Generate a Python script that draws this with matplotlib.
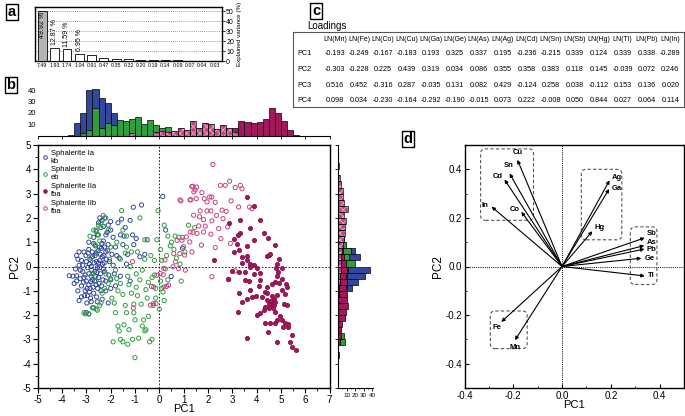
"""Sphalerite PCA figure: scree plot (a), PC1/PC2 scores with marginal
histograms (b), loadings table (c) and loading biplot (d)."""

import numpy as np
import matplotlib
matplotlib.use("Agg")
import matplotlib.pyplot as plt
from matplotlib.lines import Line2D
from matplotlib.patches import FancyBboxPatch

plt.rcParams["font.family"] = ["Liberation Sans", "DejaVu Sans"]
plt.rcParams["axes.unicode_minus"] = False
plt.rcParams["hatch.linewidth"] = 0.6

# ---------------------------------------------------------------- data
eigenvalues = ["7.49", "1.93", "1.74", "1.04", "0.91", "0.47", "0.35", "0.32",
               "0.20", "0.19", "0.14", "0.09", "0.07", "0.04", "0.03"]
variance_pct = [49.92, 12.87, 11.59, 6.95, 6.06, 3.13, 2.33, 2.13,
                1.33, 1.27, 0.93, 0.60, 0.47, 0.27, 0.20]

elements = ["Mn", "Fe", "Co", "Cu", "Ga", "Ge", "As", "Ag", "Cd", "Sn",
            "Sb", "Hg", "Tl", "Pb", "In"]
pc_names = ["PC1", "PC2", "PC3", "PC4"]
load_pc1 = [-0.193, -0.249, -0.167, -0.183, 0.193, 0.325, 0.337, 0.195,
            -0.236, -0.215, 0.339, 0.124, 0.339, 0.338, -0.289]
load_pc2 = [-0.303, -0.228, 0.225, 0.439, 0.319, 0.034, 0.086, 0.355,
            0.358, 0.383, 0.118, 0.145, -0.039, 0.072, 0.246]
load_pc3 = [0.516, 0.452, -0.316, 0.287, -0.035, 0.131, 0.082, 0.429,
            -0.124, 0.258, 0.038, -0.112, 0.153, 0.136, 0.020]
load_pc4 = [0.098, 0.034, -0.230, -0.164, -0.292, -0.190, -0.015, 0.073,
            0.222, -0.008, 0.050, 0.844, 0.027, 0.064, 0.114]

# element groups boxed in the biplot
groups = [["Cu", "Sn", "Cd", "In", "Co"],
          ["Ag", "Ga", "Hg"],
          ["Sb", "As", "Pb", "Ge", "Tl"],
          ["Fe", "Mn"]]

# PC scores
ia_points = [
    (-3.7, -0.38), (-3.55, -0.4), (-3.4, -0.38), (-3.3, -1.4), (-3.4, 0.45), (-3.35, 0.3),
    (-3.3, 0.05), (-3.25, -0.5), (-3.2, -0.8), (-3.15, -0.2), (-3.1, 0.6), (-3.05, -1.0),
    (-3.0, -0.6), (-3.0, 0.2), (-2.95, -1.2), (-2.9, -0.3), (-2.9, 0.7), (-2.85, -0.9),
    (-2.8, 0.0), (-2.8, -1.45), (-2.75, -0.55), (-2.75, 0.4), (-2.7, -1.1), (-2.7, 0.95),
    (-2.65, -0.2), (-2.6, -0.75), (-2.6, 0.55), (-2.55, 1.3), (-2.5, -0.45), (-2.5, 0.15),
    (-2.45, 0.8), (-2.4, -1.0), (-2.4, 1.6), (-2.35, 0.4), (-2.3, -0.1), (-2.3, 1.05),
    (-2.25, 2.0), (-2.2, -0.6), (-2.2, 0.6), (-2.15, 1.4), (-2.1, -1.5), (-2.1, 0.9),
    (-2.05, 0.2), (-2.0, 1.85), (-2.0, -0.9), (-1.95, 0.5), (-1.9, 1.2), (-1.85, -0.3),
    (-1.8, 0.8), (-1.7, 1.8), (-1.65, 0.35), (-1.6, -0.4), (-1.55, 1.95), (-1.5, 0.9),
    (-1.4, 1.6), (-1.3, 0.5), (-1.2, 1.9), (-1.07, 2.44), (-1.05, 0.9), (-0.73, 2.53),
    (-0.6, 0.5), (-0.5, 1.1), (0.14, 2.88), (0.26, 1.5), (0.49, -0.41), (0.95, 0.75),
    (-3.05, -0.35), (-2.95, -0.05), (-2.9, -0.75), (-2.85, 0.3), (-2.8, -0.4), (-2.78, -0.15),
    (-2.72, -0.85), (-2.68, 0.15), (-2.62, -0.4), (-2.58, -1.25), (-2.55, -0.05), (-2.52, 0.65),
    (-2.48, -0.7), (-2.45, 0.25), (-2.42, -0.3), (-2.38, 0.75), (-2.32, -0.55), (-2.28, 0.45),
    (-2.25, -0.2), (-2.18, 0.3), (-2.12, 0.65), (-2.08, -0.35), (-3.12, -0.65), (-3.08, -1.2),
    (-3.02, 0.45), (-2.98, -1.5), (-2.92, 0.55), (-2.88, -1.05), (-2.82, -0.62), (-2.76, 0.6),
    (-2.66, -0.6), (-2.64, 0.45), (-2.58, 0.2), (-2.54, -0.9), (-2.46, -0.05), (-2.36, 0.95),
    (-2.34, 0.1), (-2.26, 0.8), (-2.9, 1.0), (-2.7, 1.2), (-2.6, 1.45), (-2.5, 1.8),
    (-2.3, 1.65), (-2.2, 1.3), (-2.1, 1.7), (-2.0, 1.5), (-2.45, 2.0), (-2.35, 1.9),
    (-3.3, 0.6), (-3.2, 0.25), (-3.45, -0.1), (-3.5, -0.7), (-3.35, -1.0), (-3.2, -1.25),
    (-3.0, -1.9), (-2.9, -1.95), (-2.55, -1.45), (-2.7, -1.7), (-2.35, -1.35), (-2.2, -1.0),
    (-2.0, -0.55), (-1.9, 0.05), (-1.8, -0.8), (-1.75, 0.45), (-1.6, 1.3), (-1.45, 1.25),
    (-1.35, 0.1), (-1.2, -0.6), (-1.1, 1.3), (-0.95, 1.15), (-0.8, 0.4), (-3.15, 0.05),
    (-3.1, -0.45), (-2.97, -0.9), (-2.87, 0.1), (-2.83, -1.3), (-2.73, -0.3), (-2.63, 0.85),
    (-2.57, -0.25), (-2.43, 0.5), (-2.37, -0.8), (-2.27, 0.15), (-3.25, -0.15), (-3.4, -0.6),
]
ib_points = [
    (-3.05, -1.95), (-2.9, -1.95), (-2.6, -1.75), (-2.55, -1.8), (-2.75, -1.7), (-2.4, -1.5),
    (-2.25, -0.9), (-2.7, 1.5), (-2.6, 1.5), (-2.5, 1.3), (-2.5, 1.7), (-2.3, 1.65),
    (-2.2, 2.0), (-2.3, 2.1), (-2.4, 1.8), (-2.1, 1.5), (-2.65, 0.9), (-2.45, 1.05),
    (-2.8, 0.35), (-2.75, -0.3), (-2.6, -0.6), (-2.35, -1.1), (-2.2, -0.3), (-2.1, -0.7),
    (-2.05, 0.3), (-1.95, -1.3), (-1.85, -1.5), (-1.8, -1.9), (-1.75, -0.5), (-1.7, -1.0),
    (-1.6, -0.7), (-1.55, 2.3), (-1.5, -1.15), (-1.45, -2.4), (-1.4, -1.6), (-1.35, 0.8),
    (-1.3, -0.4), (-1.25, -2.6), (-1.2, 0.0), (-1.15, -1.1), (-1.1, -3.0), (-1.05, -1.9),
    (-1.0, -3.75), (-0.95, -0.85), (-0.9, 0.6), (-0.85, -2.95), (-0.8, 2.0), (-0.75, -1.55),
    (-0.7, -0.15), (-0.65, -2.2), (-0.6, -2.65), (-0.55, -2.6), (-0.5, -1.3), (-0.45, -0.65),
    (-0.4, -3.1), (-0.35, 0.45), (-0.3, -3.0), (-0.25, -1.6), (-0.2, -0.35), (-0.15, -0.9),
    (-0.1, 1.1), (-0.05, 2.3), (0.0, -1.75), (0.05, -0.6), (0.1, 0.25), (0.15, -1.05),
    (0.2, 1.7), (0.25, -0.1), (0.3, 0.45), (0.35, -0.55), (0.45, 0.85), (0.5, 1.0),
    (0.6, 0.7), (0.65, 1.25), (0.7, 0.35), (0.8, 1.2), (0.85, 0.1), (0.9, -0.6),
    (0.95, 1.2), (1.05, 0.6), (1.2, 1.7), (1.45, 1.6), (-1.9, -3.1), (-1.5, -3.1),
    (-1.3, -3.2), (-1.6, -3.0), (-1.65, -2.65), (-1.7, -2.45), (-2.0, -0.5), (-1.6, 0.3),
    (-1.4, 0.55), (-1.15, 0.6), (-0.95, -0.3), (-0.6, 0.3), (-0.3, -0.45), (-0.15, -1.3),
    (0.1, -0.9), (0.2, -1.4), (-0.55, -0.95), (-0.8, -0.55), (-1.05, -1.55), (-1.25, -0.75),
    (-1.8, -0.15), (-2.0, 0.8), (-1.75, 1.0), (-1.35, 1.25), (-0.6, 1.1), (0.35, 1.25),
    (0.05, 0.7), (-0.2, 0.25), (-0.45, -2.05), (-0.7, -2.45), (-1.0, -2.2), (-1.35, -1.9),
    (-2.45, -1.6), (-3.1, -1.9), (-2.85, 1.25), (-2.55, 0.6), (-1.5, 1.5), (-0.9, -1.2),
]
iib_points = [
    (2.2, 4.2), (2.89, 3.51), (2.71, 3.34), (2.51, 3.34), (3.12, 3.25), (3.33, 3.34),
    (3.4, 3.2), (1.38, 3.3), (1.53, 3.27), (1.42, 3.07), (1.75, 3.04), (2.07, 2.86),
    (2.16, 2.86), (1.85, 2.79), (1.96, 2.66), (2.3, 2.64), (1.3, 2.75), (1.52, 2.79),
    (0.89, 2.7), (2.95, 2.7), (3.26, 2.45), (3.71, 2.45), (3.81, 2.38), (2.58, 2.32),
    (2.75, 2.27), (1.96, 2.29), (2.12, 2.29), (1.68, 2.29), (1.41, 2.11), (1.82, 1.93),
    (2.16, 1.88), (2.62, 1.97), (2.44, 1.56), (2.81, 1.63), (1.89, 1.66), (1.62, 1.67),
    (1.27, 1.42), (1.38, 1.41), (1.55, 1.36), (1.82, 1.42), (2.12, 1.33), (2.53, 1.15),
    (2.92, 0.95), (2.3, 0.78), (1.73, 0.88), (1.11, 1.22), (0.93, 1.08), (1.25, 1.01),
    (1.0, 0.81), (0.73, 1.08), (1.34, 0.6), (1.04, 0.47), (0.84, 0.53), (0.59, 0.53),
    (0.66, 0.19), (0.79, -0.08), (1.07, -0.15), (0.18, -0.08), (0.04, -0.29), (0.56, -0.01),
    (0.38, -0.77), (0.18, -0.84), (-0.1, -0.36), (-0.23, -0.84), (-0.14, -1.52), (-0.37, -1.59),
    (2.16, -0.42), (2.85, -0.53), (3.12, -0.18), (-0.32, -0.82), (0.3, -0.82), (-1.07, -1.71),
    (-0.25, -1.53), (-1.1, 0.2), (0.23, 0.27), (0.16, -0.34), (1.33, 3.29), (1.47, 3.15),
    (1.26, 2.74), (0.85, 2.74), (1.65, 2.05), (2.35, 2.1),
]
iia_points = [
    (3.6, 2.86), (3.88, 2.48), (4.15, 1.93), (3.33, 1.93), (2.85, 1.79), (3.74, 1.6),
    (4.32, 1.38), (4.45, 1.19), (3.3, 1.38), (3.22, 1.29), (3.05, 1.15), (3.9, 1.08),
    (4.77, 0.88), (3.19, 0.92), (3.26, 0.67), (3.6, 0.84), (3.05, 0.6), (4.49, 0.47),
    (4.42, 0.42), (4.9, 0.29), (4.56, 0.53), (3.4, 0.4), (3.6, 0.42), (3.4, 0.15),
    (3.6, 0.26), (3.74, 0.12), (3.88, 0.05), (2.23, 0.26), (4.01, -0.08), (3.71, -0.01),
    (4.84, 0.1), (4.81, -0.08), (5.04, -0.08), (4.86, -0.22), (4.84, -0.4), (5.04, -0.53),
    (4.77, -0.63), (4.15, -0.26), (3.88, -0.29), (3.53, -0.22), (3.26, -0.22), (2.99, -0.19),
    (2.81, -0.53), (3.67, -0.59), (3.53, -0.56), (4.15, -0.56), (4.08, -0.81), (4.42, -0.84),
    (4.36, -1.04), (4.63, -0.7), (4.9, -0.67), (5.22, -0.7), (5.25, -0.84), (5.04, -0.95),
    (5.18, -1.14), (3.71, -0.97), (3.29, -1.08), (3.81, -1.25), (3.99, -1.22), (4.22, -1.25),
    (4.42, -1.11), (4.63, -1.22), (4.84, -1.16), (3.4, -1.45), (3.6, -1.32), (4.42, -1.38),
    (4.53, -1.45), (4.63, -1.55), (4.56, -1.66), (4.7, -1.59), (4.77, -1.45), (4.49, -1.71),
    (4.29, -1.79), (4.12, -1.9), (4.01, -2.0), (4.36, -1.66), (5.11, -1.55), (5.25, -1.59),
    (4.77, -1.86), (4.97, -2.04), (5.04, -2.21), (4.84, -2.21), (4.56, -2.32), (4.36, -2.32),
    (5.18, -2.32), (5.08, -2.48), (4.77, -2.34), (5.27, -2.51), (4.45, -2.68), (3.22, -1.86),
    (5.45, -2.82), (5.38, -3.1), (4.84, -3.1), (3.6, -2.96), (5.45, -3.33), (5.63, -3.44),
    (5.27, -2.38), (4.6, -1.5), (4.68, -1.7), (4.5, -1.55), (4.72, -1.35), (4.58, -1.4),
]

# PC1 histogram: 0.25-wide bins starting at -3.75
pc1_bin_start = -3.75
pc1_ia = [1, 11, 20, 40, 41, 33, 29, 20, 0, 0, 0, 0, 0, 0, 0, 0, 0, 0, 0,
          0, 0, 0, 0, 0, 0, 0, 0, 0, 0, 0, 0, 0, 0, 0, 0, 0, 0, 0]
pc1_ib = [0, 0, 2, 5, 24, 7, 11, 9, 14, 13, 15, 16, 10, 14, 9, 7, 8, 0, 0,
          0, 0, 0, 0, 0, 0, 0, 0, 0, 0, 0, 0, 0, 0, 0, 0, 0, 0, 0]
pc1_iia = [0, 0, 0, 0, 0, 0, 0, 0, 0, 0, 0, 0, 0, 0, 0, 0, 0, 0, 0,
           0, 0, 0, 0, 0, 0, 0, 0, 7, 13, 12, 11, 12, 15, 24, 20, 13, 5, 1]
pc1_iib = [0, 0, 0, 0, 0, 0, 0, 0, 0, 0, 2, 0, 0, 0, 3, 4, 3, 4, 7,
           5, 13, 7, 11, 10, 6, 9, 7, 3, 0, 0, 0, 0, 0, 0, 0, 0, 0, 0]

# PC2 histogram: 0.25-wide bins starting at -4.0
pc2_bin_start = -4.0
pc2_ia = [0, 0, 0, 0, 0, 0, 0, 0, 1, 3, 5, 9, 16, 24, 32, 38, 18, 26, 20,
          8, 5, 3, 3, 3, 4, 1, 1, 0, 0, 0, 0, 0, 0]
pc2_ib = [0, 1, 0, 8, 7, 4, 3, 3, 5, 7, 9, 9, 11, 10, 11, 12, 20, 13, 15,
          9, 7, 5, 4, 4, 4, 2, 0, 0, 0, 0, 0, 0, 0]
pc2_iia = [0, 0, 0, 2, 3, 3, 5, 8, 9, 12, 11, 10, 9, 10, 9, 11, 9, 7, 6,
           5, 4, 3, 2, 2, 1, 0, 0, 1, 0, 0, 0, 0, 0]
pc2_iib = [0, 0, 0, 0, 0, 0, 0, 0, 0, 0, 0, 1, 1, 2, 2, 3, 3, 4, 5,
           6, 7, 8, 8, 9, 7, 12, 7, 6, 6, 4, 2, 0, 1]

# ---------------------------------------------------------------- styles
C_IA = "#33479c"
C_IB = "#2f9e3c"
C_IIA = "#a3175e"
C_IIB = "#c34382"
C_IIB_HATCH = "#eaa6c8"

W, H = 685, 416
fig = plt.figure(figsize=(W / 100, H / 100), dpi=100)


def px_axes(left, top, right, bottom):
    """Axes placed by pixel box (origin top-left)."""
    return fig.add_axes([left / W, 1 - bottom / H, (right - left) / W, (bottom - top) / H])


def panel_label(x, y, letter):
    fig.text(x / W, 1 - y / H, letter, fontsize=10.5, fontweight="bold", ha="center", va="center",
             bbox=dict(boxstyle="square,pad=0.1", fc="white", ec="black", lw=1.0))


# ---------------------------------------------------------------- (a) scree
ax_a = px_axes(35, 7, 222, 61)
idx = np.arange(len(variance_pct))
ax_a.bar(idx, variance_pct, width=0.72, color=["#b3b3b3"] + ["white"] * (len(idx) - 1),
         edgecolor="black", lw=0.6, zorder=3)
ax_a.set_xlim(-0.6, len(idx) - 0.4)
ax_a.set_ylim(0, 54)
ax_a.yaxis.tick_right()
ax_a.set_yticks(range(0, 51, 10))
ax_a.tick_params(axis="y", labelsize=5, length=2, width=0.6, pad=1)
ax_a.yaxis.grid(True, ls=(0, (1, 1.5)), color="#777", lw=0.6)
ax_a.set_xticks(idx)
ax_a.set_xticklabels(eigenvalues, fontsize=3.8)
ax_a.tick_params(axis="x", length=0, pad=1.5)
ax_a.yaxis.set_label_position("right")
ax_a.set_ylabel("Explained variance (%)", fontsize=4.5, labelpad=2)
for s in ax_a.spines.values():
    s.set_linewidth(1.0)
ax_a.text(0, variance_pct[0] - 1, f"{variance_pct[0]:.2f} %", rotation=90, ha="center",
          va="top", fontsize=5, zorder=4)
for i in range(1, 4):
    ax_a.annotate(f"{variance_pct[i]:.2f} %", (i, variance_pct[i]), xytext=(0, 2),
                  textcoords="offset points", rotation=90, ha="center", va="bottom",
                  fontsize=5, zorder=4)
panel_label(12, 12, "a")

# ---------------------------------------------------------------- (c) table
panel_label(316, 11, "c")
fig.text(307 / W, 1 - 26 / H, "Loadings", fontsize=7, ha="left", va="center")
ax_c = px_axes(293, 32, 684, 107)
ax_c.set_zorder(3)
ax_c.set_xticks([])
ax_c.set_yticks([])
for s in ax_c.spines.values():
    s.set_linewidth(0.8)
    s.set_color("#555")
col_x = np.linspace(0.108, 0.965, len(elements))
row_y = [0.71, 0.5, 0.29, 0.09]
for cx, el in zip(col_x, elements):
    ax_c.text(cx, 0.9, f"LN({el})", fontsize=5.0, ha="center", va="center", transform=ax_c.transAxes)
for ry, name, vals in zip(row_y, pc_names, [load_pc1, load_pc2, load_pc3, load_pc4]):
    ax_c.text(0.012, ry, name, fontsize=5.2, ha="left", va="center", transform=ax_c.transAxes)
    for cx, v in zip(col_x, vals):
        ax_c.text(cx, ry, f"{v:.3f}", fontsize=5.2, ha="center", va="center", transform=ax_c.transAxes)

# ---------------------------------------------------------------- (b) scores
ax_b = px_axes(37.7, 145, 329.6, 388)
ia = np.array(ia_points)
ib = np.array(ib_points)
iia = np.array(iia_points)
iib = np.array(iib_points)
ax_b.scatter(ia[:, 0], ia[:, 1], s=9, facecolors="none", edgecolors=C_IA, linewidths=0.7, zorder=3)
ax_b.scatter(ib[:, 0], ib[:, 1], s=9, facecolors="none", edgecolors=C_IB, linewidths=0.7, zorder=3)
ax_b.scatter(iib[:, 0], iib[:, 1], s=9, facecolors="none", edgecolors=C_IIB, linewidths=0.7, zorder=3)
ax_b.scatter(iia[:, 0], iia[:, 1], s=9, facecolors=C_IIA, edgecolors="#8a0f4c", linewidths=0.6, zorder=4)
ax_b.axvline(0, color="black", ls=(0, (2, 2)), lw=0.6, zorder=1)
ax_b.axhline(0, color="black", ls=(0, (2, 2)), lw=0.6, zorder=1)
ax_b.set_xlim(-5, 7)
ax_b.set_ylim(-5, 5)
ax_b.set_xticks(range(-5, 8))
ax_b.set_yticks(range(-5, 6))
ax_b.set_xticks(np.arange(-5, 7.01, 0.5), minor=True)
ax_b.set_yticks(np.arange(-5, 5.01, 0.5), minor=True)
ax_b.tick_params(which="major", labelsize=7, length=3.5, width=0.8, direction="out", pad=1.5)
ax_b.tick_params(which="minor", length=2, width=0.6, direction="out")
ax_b.set_xlabel("PC1", fontsize=8, labelpad=-0.5)
ax_b.set_ylabel("PC2", fontsize=8.5, labelpad=1)
for s in ax_b.spines.values():
    s.set_linewidth(1.0)
handles = [
    Line2D([], [], ls="none", marker="o", ms=2.6, mfc="none", mec=C_IA, mew=0.7),
    Line2D([], [], ls="none", marker="o", ms=2.6, mfc="none", mec=C_IB, mew=0.7),
    Line2D([], [], ls="none", marker="o", ms=2.6, mfc=C_IIA, mec="#8a0f4c", mew=0.6),
    Line2D([], [], ls="none", marker="o", ms=2.6, mfc="none", mec=C_IIB, mew=0.7),
]
labels = ["Sphalerite Ia\nkb", "Sphalerite Ib\neb", "Sphalerite IIa\nfba", "Sphalerite IIb\nfba"]
ax_b.legend(handles, labels, loc="upper left", fontsize=5.5, frameon=False, handlelength=0.8,
            handletextpad=0.3, labelspacing=0.25, borderaxespad=0.4, borderpad=0.2)
panel_label(11, 85, "b")


def hist_bars(ax, start, counts, face, horizontal=False, hatch=None):
    lefts = start + 0.25 * np.arange(len(counts))
    draw = ax.barh if horizontal else ax.bar
    if hatch:
        draw(lefts, counts, 0.25, align="edge", color=face, edgecolor=C_IIB_HATCH, lw=0, hatch=hatch)
        draw(lefts, counts, 0.25, align="edge", facecolor="none", edgecolor="black", lw=0.5)
    else:
        draw(lefts, counts, 0.25, align="edge", color=face, edgecolor="black", lw=0.5)


# top histogram (PC1)
ax_t = px_axes(37.7, 85, 329.6, 135.7)
ax_t.patch.set_alpha(0)
hist_bars(ax_t, pc1_bin_start, pc1_ia, C_IA)
hist_bars(ax_t, pc1_bin_start, pc1_ib, C_IB)
hist_bars(ax_t, pc1_bin_start, pc1_iia, C_IIA)
hist_bars(ax_t, pc1_bin_start, pc1_iib, C_IIB, hatch="xxxxx")
ax_t.set_xlim(-5, 7)
ax_t.set_ylim(0, 44.5)
for side in ("top", "right", "left"):
    ax_t.spines[side].set_visible(False)
ax_t.spines["bottom"].set_linewidth(0.8)
ax_t.set_yticks([10, 20, 30, 40])
ax_t.tick_params(axis="y", labelsize=5.5, length=0, pad=1)
ax_t.set_xticks(range(-5, 8))
ax_t.tick_params(axis="x", labelbottom=False, length=2, width=0.6)

# right histogram (PC2)
ax_r = px_axes(338, 145, 373, 388)
hist_bars(ax_r, pc2_bin_start, pc2_ia, C_IA, horizontal=True)
hist_bars(ax_r, pc2_bin_start, pc2_ib, C_IB, horizontal=True)
hist_bars(ax_r, pc2_bin_start, pc2_iia, C_IIA, horizontal=True)
hist_bars(ax_r, pc2_bin_start, pc2_iib, C_IIB, horizontal=True, hatch="xxxxx")
ax_r.set_ylim(-5, 5)
ax_r.set_xlim(0, 41)
for side in ("top", "right"):
    ax_r.spines[side].set_visible(False)
ax_r.spines["left"].set_linewidth(0.8)
ax_r.spines["bottom"].set_linewidth(0.8)
ax_r.set_xticks([10, 20, 30, 40])
ax_r.set_xticks(range(0, 41, 5), minor=True)
ax_r.tick_params(axis="x", which="major", labelsize=4.5, length=2, width=0.6, pad=1.5)
ax_r.tick_params(axis="x", which="minor", length=1, width=0.5)
ax_r.set_yticks(range(-5, 6))
ax_r.tick_params(axis="y", labelleft=False, length=2, width=0.6)

# ---------------------------------------------------------------- (d) biplot
ax_d = px_axes(464.5, 145, 684, 388)
ax_d.axvline(0, color="black", ls=(0, (1, 1.2)), lw=0.7, zorder=1)
ax_d.axhline(0, color="black", ls=(0, (1, 1.2)), lw=0.7, zorder=1)
label_offsets = {
    "Cu": (0, 5), "Sn": (-1, 5.5), "Cd": (-5, 2), "In": (-5, 1), "Co": (-5, 2),
    "Ag": (5, 2), "Ga": (5.5, 0), "Hg": (5, 3), "Sb": (5, 3), "As": (5, 2),
    "Pb": (5, 0), "Ge": (6, 0), "Tl": (5, 0), "Fe": (-3, -4), "Mn": (0, -5),
}
for el, px1, px2 in zip(elements, load_pc1, load_pc2):
    ax_d.annotate("", xy=(px1, px2), xytext=(0, 0),
                  arrowprops=dict(arrowstyle="-|>", lw=0.8, color="black",
                                  mutation_scale=5, shrinkA=0, shrinkB=0))
    ax_d.annotate(el, (px1, px2), xytext=label_offsets[el], textcoords="offset points",
                  ha="center", va="center", fontsize=5.5, fontweight="bold")
tips = dict(zip(elements, zip(load_pc1, load_pc2)))
for members in groups:
    gx = [tips[m][0] for m in members]
    gy = [tips[m][1] for m in members]
    x0, x1 = min(gx) - 0.045, max(gx) + 0.05
    y0, y1 = min(gy) - 0.035, max(gy) + 0.045
    ax_d.add_patch(FancyBboxPatch((x0, y0), x1 - x0, y1 - y0,
                                  boxstyle="round,pad=0,rounding_size=0.02",
                                  fill=False, ec="#555", lw=0.8, ls=(0, (3, 2))))
ax_d.set_xlim(-0.4, 0.5)
ax_d.set_ylim(-0.5, 0.5)
ax_d.set_xticks([-0.4, -0.2, 0.0, 0.2, 0.4])
ax_d.set_yticks([-0.4, -0.2, 0.0, 0.2, 0.4])
ax_d.set_xticks(np.arange(-0.4, 0.51, 0.1), minor=True)
ax_d.set_yticks(np.arange(-0.5, 0.51, 0.1), minor=True)
ax_d.xaxis.set_major_formatter(plt.FormatStrFormatter("%.1f"))
ax_d.yaxis.set_major_formatter(plt.FormatStrFormatter("%.1f"))
ax_d.tick_params(which="major", labelsize=7, length=3, width=0.8, direction="in", pad=2)
ax_d.tick_params(which="minor", length=1.5, width=0.6, direction="in")
ax_d.set_xlabel("PC1", fontsize=8, labelpad=-0.5)
ax_d.set_ylabel("PC2", fontsize=8.5, labelpad=1)
for s in ax_d.spines.values():
    s.set_linewidth(1.0)
panel_label(408, 139, "d")

fig.savefig("out.png", dpi=100)
